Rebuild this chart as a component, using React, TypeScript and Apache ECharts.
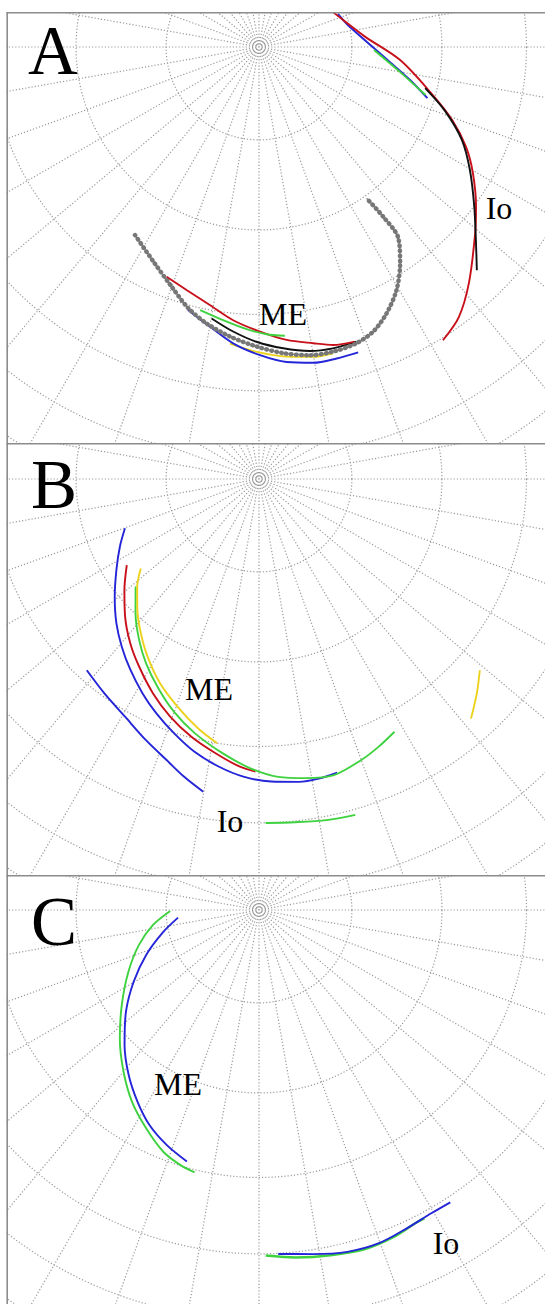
import React, { useEffect, useRef } from "react";
import * as echarts from "echarts";

// ---- grid (projected polar view, radius axis in % of planet radius) ----
const RING_COLATITUDES = [10, 20, 30, 40, 50, 60, 70, 80];
const MERIDIAN_STEP = 10;

type Pt = [number, number]; // [projected radius, angle in degrees]

// ---- Panel A ----
const A_IO_BLUE: Pt[] = [[16.0, 337.3], [17.1, 346.1], [23.0, 3.7], [28.9, 12.3], [32.9, 16.9]];
const A_IO_GREEN: Pt[] = [[21.5, 1.5], [26.8, 10.1], [32.4, 16.1]];
const A_IO_RED: Pt[] = [[13.5, 309.4], [15.2, 334.2], [19.9, 354.4], [26.5, 5.3], [33.3, 15.0], [38.6, 20.7], [43.0, 25.8], [46.4, 30.5], [50.4, 36.4], [53.3, 40.7], [59.0, 48.3], [62.8, 53.5], [64.7, 57.9]];
const A_IO_BLACK: Pt[] = [[32.0, 13.9], [36.8, 19.0], [41.7, 24.6], [45.6, 30.2], [49.9, 36.3], [54.3, 41.7], [58.3, 45.7]];
const A_ME_GRAY: Pt[] = [[42.1, 123.4], [44.7, 116.2], [47.7, 110.0], [50.6, 105.1], [52.6, 100.7], [54.4, 95.7], [56.0, 90.4], [57.4, 85.5], [58.4, 80.6], [58.6, 76.3], [58.3, 71.8], [57.3, 68.1], [55.2, 64.4], [52.2, 60.5], [48.3, 56.9], [44.2, 53.9], [39.3, 53.8], [34.7, 54.6]];
const A_ME_YELLOW: Pt[] = [[55.7, 95.6], [57.0, 90.4], [58.1, 84.9], [58.8, 80.1], [58.9, 76.4]];
const A_ME_BLUE: Pt[] = [[50.9, 105.1], [53.1, 99.9], [55.6, 95.0], [57.6, 89.8], [59.1, 85.0], [59.9, 80.2], [60.0, 76.0], [60.0, 72.0]];
const A_ME_BLACK: Pt[] = [[51.5, 99.9], [53.4, 95.2], [55.1, 90.5], [56.5, 85.4], [57.6, 80.5], [58.0, 76.2], [58.0, 71.7]];
const A_ME_RED: Pt[] = [[46.3, 111.9], [47.4, 106.6], [49.1, 100.8], [51.3, 95.4], [53.2, 89.8], [55.0, 84.6], [56.3, 79.6], [57.4, 76.0], [57.9, 72.0]];
const A_ME_GREEN: Pt[] = [[50.4, 102.6], [51.5, 97.5], [52.8, 92.5], [53.7, 88.5], [54.2, 84.9]];

// ---- Panel B ----
const B_ME_BLUE: Pt[] = [[26.7, 159.8], [28.9, 154.1], [31.6, 147.5], [34.8, 140.8], [37.9, 134.7], [40.5, 129.3], [43.0, 124.0], [45.6, 118.5], [47.8, 113.7], [50.1, 108.5], [52.4, 103.3], [54.3, 97.9], [55.7, 93.0], [56.6, 87.7], [57.1, 82.5], [57.1, 78.5], [56.8, 75.1]];
const B_OUTER_BLUE: Pt[] = [[48.1, 132.0], [49.4, 125.8], [51.0, 119.4], [53.2, 113.4], [55.3, 108.2], [57.4, 104.1], [59.4, 100.1]];
const B_ME_RED: Pt[] = [[29.5, 146.9], [32.6, 140.5], [35.9, 134.2], [39.0, 128.1], [41.6, 122.6], [44.7, 116.3], [47.4, 110.5], [49.8, 104.7], [51.9, 99.0], [53.9, 93.8], [54.7, 90.7]];
const B_ME_GREEN: Pt[] = [[30.6, 138.9], [34.1, 132.6], [37.5, 126.7], [40.4, 121.5], [43.4, 115.7], [46.3, 110.1], [49.0, 104.2], [51.7, 97.6], [54.1, 91.7], [55.8, 86.3], [56.6, 81.1], [57.1, 75.8], [55.9, 70.0], [54.8, 65.9], [53.6, 61.8]];
const B_ME_YELLOW: Pt[] = [[27.7, 142.9], [30.4, 138.5], [33.4, 132.9], [36.3, 127.5], [39.2, 122.1], [42.4, 115.9], [45.2, 109.7], [48.0, 103.7], [50.0, 99.0]];
const B_RIGHT_YELLOW: Pt[] = [[54.6, 40.9], [57.1, 44.5], [59.8, 48.5]];
const B_IO_GREEN: Pt[] = [[64.3, 88.9], [64.5, 84.0], [65.0, 78.8], [65.3, 74.0]];

// ---- Panel C ----
const C_ME_GREEN: Pt[] = [[16.6, 179.4], [20.0, 172.0], [23.4, 163.7], [27.0, 154.7], [31.2, 145.3], [35.4, 137.3], [39.4, 130.0], [43.0, 123.5], [45.9, 117.4], [48.6, 111.6], [49.9, 107.1], [50.5, 103.8]];
const C_ME_BLUE: Pt[] = [[15.2, 174.6], [18.3, 167.2], [22.7, 158.3], [27.0, 150.2], [31.3, 142.6], [35.6, 134.9], [39.3, 128.3], [42.4, 122.4], [45.1, 117.0], [47.2, 111.4], [48.9, 106.0]];
const C_IO_GREEN: Pt[] = [[64.6, 88.9], [65.3, 84.0], [65.9, 78.3], [66.4, 72.6], [66.1, 67.7], [65.4, 63.1], [65.4, 61.8]];
const C_IO_BLUE: Pt[] = [[64.4, 86.8], [65.1, 81.1], [66.0, 75.5], [66.2, 70.2], [65.6, 65.1], [65.2, 60.4], [65.3, 56.8]];

const RED = "#c8101a";
const BLUE = "#2424d8";
const GREEN = "#3fd23f";
const YELLOW = "#ecd21c";
const BLACK = "#111111";
const GRAY = "#8a8a8a";
const GRID = "#9a9a9a";

function ringSeries() {
  return RING_COLATITUDES.map((c) => {
    const rv = 100 * Math.sin((c * Math.PI) / 180);
    const data: Pt[] = [];
    for (let a = 0; a <= 360; a += 2) data.push([rv, a]);
    return {
      type: "line",
      coordinateSystem: "polar",
      data,
      symbol: "none",
      silent: true,
      z: 1,
      lineStyle: { color: GRID, width: 1.2, type: [1.2, 2] },
    };
  });
}

function curve(data: Pt[], color: string, width = 1.9, z = 3) {
  return {
    type: "line",
    coordinateSystem: "polar",
    data,
    symbol: "none",
    smooth: 0.3,
    silent: true,
    z,
    lineStyle: { color, width },
  };
}

function beads(data: Pt[]) {
  return [
    curve(data, GRAY, 1.4, 4),
    {
      type: "line",
      coordinateSystem: "polar",
      data,
      symbol: "none",
      smooth: 0.3,
      silent: true,
      z: 5,
      lineStyle: { color: "#777777", width: 4.5, type: [0.5, 4.5], cap: "round" },
    },
  ];
}

type Label = { text: string; x: number; y: number; size: number };

type PanelDef = {
  top: number;
  height: number;
  pole: [number, number];
  labels: Label[];
  series: any[];
};

const PANELS: PanelDef[] = [
  {
    top: 12,
    height: 431,
    pole: [259, 35],
    labels: [
      { text: "A", x: 53, y: 39, size: 69 },
      { text: "ME", x: 283, y: 302, size: 32 },
      { text: "Io", x: 499, y: 196, size: 32 },
    ],
    series: [
      curve(A_IO_BLUE, BLUE),
      curve(A_IO_GREEN, GREEN),
      curve(A_IO_RED, RED),
      curve(A_IO_BLACK, BLACK),
      curve(A_ME_YELLOW, YELLOW),
      ...beads(A_ME_GRAY),
      curve(A_ME_BLUE, BLUE),
      curve(A_ME_BLACK, BLACK),
      curve(A_ME_RED, RED),
      curve(A_ME_GREEN, GREEN),
    ],
  },
  {
    top: 443,
    height: 432,
    pole: [259, 36],
    labels: [
      { text: "B", x: 54, y: 42, size: 69 },
      { text: "ME", x: 209, y: 246, size: 32 },
      { text: "Io", x: 230, y: 378, size: 32 },
    ],
    series: [
      curve(B_ME_BLUE, BLUE),
      curve(B_OUTER_BLUE, BLUE),
      curve(B_ME_RED, RED),
      curve(B_ME_GREEN, GREEN),
      curve(B_ME_YELLOW, YELLOW),
      curve(B_RIGHT_YELLOW, YELLOW),
      curve(B_IO_GREEN, GREEN),
    ],
  },
  {
    top: 875,
    height: 429,
    pole: [259, 35],
    labels: [
      { text: "C", x: 54, y: 47, size: 69 },
      { text: "ME", x: 178, y: 209, size: 32 },
      { text: "Io", x: 446, y: 368, size: 32 },
    ],
    series: [
      curve(C_ME_GREEN, GREEN),
      curve(C_ME_BLUE, BLUE),
      curve(C_IO_GREEN, GREEN, 2.4),
      curve(C_IO_BLUE, BLUE),
    ],
  },
];

function buildOption(p: PanelDef) {
  const graphic: any[] = [
    { type: "rect", shape: { x: 0, y: 0, width: 6.5, height: p.height }, style: { fill: "#ffffff" }, z: 50, silent: true },
    { type: "line", shape: { x1: 7.2, y1: 0, x2: 7.2, y2: p.height }, style: { stroke: "#8c8c8c", lineWidth: 1.6 }, z: 51, silent: true },
    { type: "line", shape: { x1: 6.4, y1: 0.8, x2: 545, y2: 0.8 }, style: { stroke: "#8c8c8c", lineWidth: 1.6 }, z: 51, silent: true },
  ];
  p.labels.forEach((l) => {
    graphic.push({
      type: "text",
      x: l.x,
      y: l.y,
      z: 60,
      silent: true,
      style: {
        text: l.text,
        fontSize: l.size,
        fontFamily: "Liberation Serif",
        fontWeight: "normal",
        fill: "#000",
        align: "center",
        verticalAlign: "middle",
        textAlign: "center",
        textVerticalAlign: "middle",
      },
    });
  });
  return {
    animation: false,
    backgroundColor: "#ffffff",
    textStyle: { fontFamily: "Liberation Serif" },
    polar: { center: [p.pole[0], p.pole[1]], radius: 535 },
    angleAxis: {
      type: "value",
      min: 0,
      max: 360,
      interval: MERIDIAN_STEP,
      startAngle: 0,
      clockwise: true,
      axisLine: { show: false },
      axisTick: { show: false },
      axisLabel: { show: false },
      splitLine: { show: true, lineStyle: { color: GRID, width: 1.2, type: [1.2, 2] } },
    },
    radiusAxis: {
      type: "value",
      min: 0,
      max: 100,
      axisLine: { show: false },
      axisTick: { show: false },
      axisLabel: { show: false },
      splitLine: { show: false },
    },
    series: [...ringSeries(), ...p.series],
    graphic,
  };
}

function Panel({ def }: { def: PanelDef }) {
  const ref = useRef<HTMLDivElement>(null);
  useEffect(() => {
    if (!ref.current) return;
    const chart = echarts.init(ref.current, null, { renderer: "svg" });
    chart.setOption(buildOption(def) as any);
    return () => chart.dispose();
  }, [def]);
  return (
    <div
      ref={ref}
      style={{ position: "absolute", left: 0, top: def.top, width: 545, height: def.height }}
    />
  );
}

export default function App() {
  return (
    <div style={{ position: "absolute", left: 0, top: 0, width: 545, height: 1304, background: "#fff", overflow: "hidden" }}>
      {PANELS.map((p, i) => (
        <Panel key={i} def={p} />
      ))}
    </div>
  );
}
